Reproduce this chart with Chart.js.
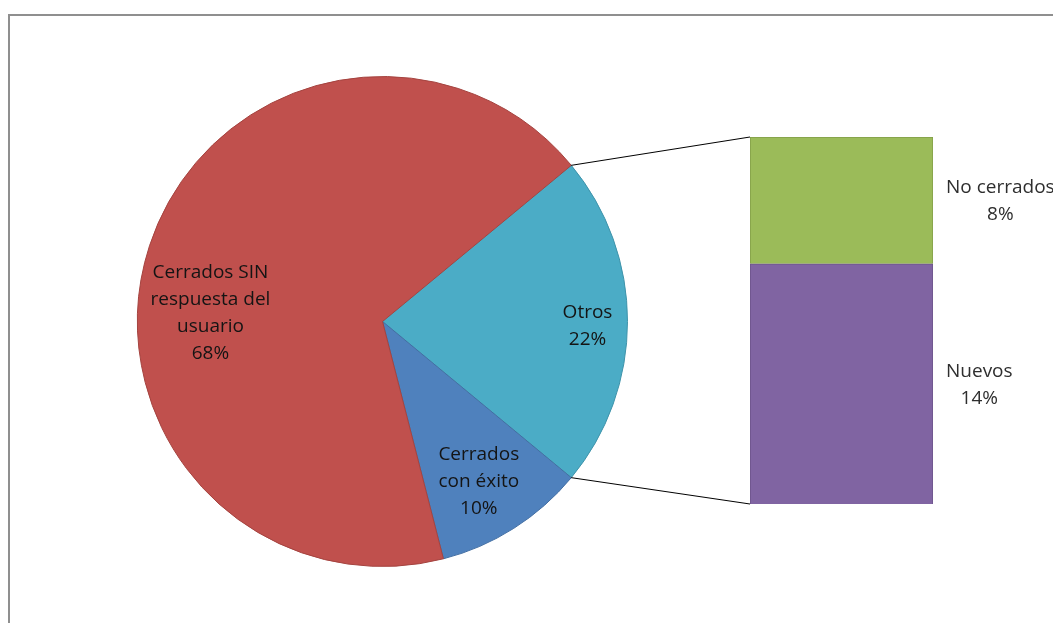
<!DOCTYPE html>
<html>
<head>
<meta charset="utf-8">
<script src="https://cdn.jsdelivr.net/npm/chart.js@4/dist/chart.umd.min.js"></script>
<style>
  html, body { margin: 0; padding: 0; background: #fff; width: 1053px; height: 623px; overflow: hidden; }
  #frame { position: absolute; left: 8px; top: 14px; width: 1100px; height: 700px; border-left: 2px solid #8f8f8f; border-top: 2px solid #8f8f8f; box-sizing: border-box; }
  canvas { position: absolute; left: 0; top: 0; }
</style>
</head>
<body>
<div id="frame"></div>
<canvas id="pie" width="1053" height="623"></canvas>
<canvas id="bar" width="1053" height="623"></canvas>
<script>
// ---- data ----
const pieCategories = ['Otros', 'Cerrados con éxito', 'Cerrados SIN respuesta del usuario'];
const pieValues = [22, 10, 68];
const pieLabelLines = [['Otros'], ['Cerrados', 'con éxito'], ['Cerrados SIN', 'respuesta del', 'usuario']];
const barCategories = ['Nuevos', 'No cerrados'];
const barValues = [14.4, 7.6];
const barLabelLines = [['Nuevos'], ['No cerrados']];

// ---- styles ----
const pieColors = ['#4BACC6', '#4F81BD', '#C0504D'];
const pieBorders = ['#3f93aa', '#426ea3', '#a4433f'];
const barColors = ['#8064A2', '#9BBB59'];
const barBorders = ['#6a5288', '#809c47'];
const pieLabelAnchor = [[1.4, 0.837], [58.9, 0.761], [182.8, 0.703]]; // [deg, radius fraction]
const FONT = '19px "Open Sans", "Liberation Sans", sans-serif';
const LINE_H = 27;

const total = pieValues.reduce((a, b) => a + b, 0);
const otrosHalfDeg = pieValues[0] / total * 360 / 2;

function fmtPct(v, t) { return Math.round(v / t * 100) + '%'; }

const pieLabelsPlugin = {
  id: 'pieLabels',
  afterDatasetsDraw(chart) {
    const ctx = chart.ctx;
    const meta = chart.getDatasetMeta(0);
    ctx.save();
    ctx.font = FONT;
    ctx.fillStyle = '#141414';
    ctx.textAlign = 'center';
    ctx.textBaseline = 'middle';
    meta.data.forEach((arc, i) => {
      const [deg, f] = pieLabelAnchor[i];
      const a = deg * Math.PI / 180;
      const cx = arc.x + Math.cos(a) * arc.outerRadius * f;
      const cy = arc.y + Math.sin(a) * arc.outerRadius * f;
      const lines = pieLabelLines[i].concat([fmtPct(pieValues[i], total)]);
      const y0 = cy - (lines.length - 1) * LINE_H / 2;
      lines.forEach((l, k) => ctx.fillText(l, cx, y0 + k * LINE_H));
    });
    ctx.restore();
  }
};

const pieChart = new Chart(document.getElementById('pie'), {
  type: 'pie',
  data: {
    labels: pieCategories,
    datasets: [{ data: pieValues, backgroundColor: pieColors, borderColor: pieBorders, borderWidth: 1 }]
  },
  options: {
    responsive: false,
    animation: false,
    rotation: 90 - otrosHalfDeg,
    layout: { padding: { left: 137, right: 425, top: 76, bottom: 56 } },
    plugins: { legend: { display: false }, tooltip: { enabled: false } }
  },
  plugins: [pieLabelsPlugin]
});

const connectorPlugin = {
  id: 'connectors',
  afterDraw(chart) {
    const ctx = chart.ctx;
    const arc = pieChart.getDatasetMeta(0).data[0];
    const top = chart.getDatasetMeta(1).data[0];
    const bottom = chart.getDatasetMeta(0).data[0];
    const left = top.x - top.width / 2;
    const p1 = [arc.x + Math.cos(arc.startAngle) * arc.outerRadius, arc.y + Math.sin(arc.startAngle) * arc.outerRadius];
    const p2 = [arc.x + Math.cos(arc.endAngle) * arc.outerRadius, arc.y + Math.sin(arc.endAngle) * arc.outerRadius];
    ctx.save();
    ctx.strokeStyle = '#000';
    ctx.lineWidth = 1;
    ctx.beginPath();
    ctx.moveTo(p1[0], p1[1]); ctx.lineTo(left, top.y);
    ctx.moveTo(p2[0], p2[1]); ctx.lineTo(left, bottom.base);
    ctx.stroke();
    // bar labels
    ctx.font = FONT;
    ctx.fillStyle = '#2e2e2e';
    ctx.textAlign = 'center';
    ctx.textBaseline = 'middle';
    const barTotal = barValues.reduce((a, b) => a + b, 0);
    const pieShare = pieValues[0] / total;
    chart.data.datasets.forEach((ds, i) => {
      const el = chart.getDatasetMeta(i).data[0];
      const lines = barLabelLines[i].concat([Math.round(barValues[i] / barTotal * pieShare * 100) + '%']);
      const w = Math.max(...lines.map(l => ctx.measureText(l).width));
      const cx = el.x + el.width / 2 + 13 + w / 2;
      const cy = (el.y + el.base) / 2 + 1;
      const y0 = cy - (lines.length - 1) * LINE_H / 2;
      lines.forEach((l, k) => ctx.fillText(l, cx, y0 + k * LINE_H));
    });
    ctx.restore();
  }
};

new Chart(document.getElementById('bar'), {
  type: 'bar',
  data: {
    labels: ['Otros'],
    datasets: barCategories.map((c, i) => ({
      label: c, data: [barValues[i]], backgroundColor: barColors[i], borderColor: barBorders[i], borderWidth: 1,
      barPercentage: 1, categoryPercentage: 1
    }))
  },
  options: {
    responsive: false,
    animation: false,
    layout: { padding: { left: 750, right: 120, top: 137, bottom: 119 } },
    scales: {
      x: { stacked: true, display: false },
      y: { stacked: true, display: false, min: 0, max: barValues.reduce((a, b) => a + b, 0) }
    },
    plugins: { legend: { display: false }, tooltip: { enabled: false } }
  },
  plugins: [connectorPlugin]
});
</script>
</body>
</html>
